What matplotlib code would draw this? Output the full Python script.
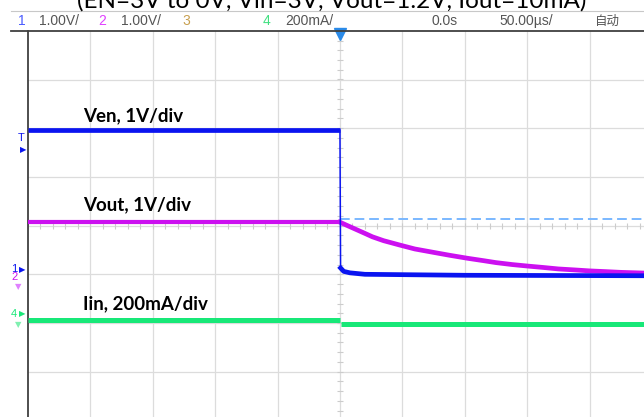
import numpy as np
import matplotlib
matplotlib.use("Agg")
import matplotlib.pyplot as plt
from matplotlib.lines import Line2D

'''
Data (read off the scope screen):
'''
# time in microseconds, 50 us/div, trigger at 0
t_before = [-250, 0]
ven_before = [2.96, 2.96]          # V, 1 V/div
vout_before = [1.07, 1.07]         # V, 1 V/div
iin_before = [-14, -14]            # mA, 200 mA/div

t_ven_after = [0.5, 3, 8, 20, 100, 250]
ven_after = [0.13, 0.06, 0.03, 0.0, -0.02, -0.03]

t_vout_after = [0, 6, 13, 20, 26, 35, 48, 60, 75, 88, 102, 115, 125,
                138, 150, 163, 175, 188, 200, 213, 225, 238, 250]
vout_after = [1.07, 1.00, 0.92, 0.84, 0.77, 0.69, 0.60, 0.52, 0.45, 0.39, 0.33, 0.28, 0.24,
              0.20, 0.17, 0.14, 0.11, 0.09, 0.07, 0.055, 0.04, 0.03, 0.02]

t_iin_after = [0.5, 250]
iin_after = [-32, -32]

ref_level = 1.13                   # dashed cursor, V on ch1/ch2 scale

ch_offset = {"1": -1.0, "2": -1.0, "4": -1.86}   # divisions
volts_div = 1.0
ma_div = 200.0

title = "(EN=3V to 0V, Vin=3V, Vout=1.2V, Iout=10mA)"
status = [("1", 18, "#4a5cff"), ("1.00V/", 39, "#555555"),
          ("2", 98, "#e040ff"), ("1.00V/", 121, "#555555"),
          ("3", 182, "#c8a050"), ("4", 263, "#40e080"),
          ("200mA/", 285, "#555555"), ("0.0s", 431, "#555555"),
          ("50.00µs/", 499, "#555555")]

'''
Setup:
'''
W, H = 644, 417
fig = plt.figure(figsize=(W / 100, H / 100), dpi=100)

def fx(x):
    return x / W

def fy(y):
    return 1 - y / H

left, right, top, bottom = 27.9, 652.0, 30.8, 420.4
ax = fig.add_axes([fx(left), fy(bottom), (right - left) / W, (bottom - top) / H])
ax.set_xlim(-250, 250)
ax.set_ylim(-4, 4)
ax.set_xticks([])
ax.set_yticks([])
for s in ["top", "right", "bottom"]:
    ax.spines[s].set_visible(False)
ax.spines["left"].set_color("#404040")
ax.spines["left"].set_linewidth(1.3)

'''
Grid:
'''
grid_c = "#dcdcdc"
for gx in np.arange(-200, 251, 50):
    ax.axvline(gx, color=grid_c, lw=0.9, zorder=1)
for gy in np.arange(-3, 4, 1):
    ax.axhline(gy, color=grid_c, lw=0.9, zorder=1)
# minor ticks on the centre lines
mx = np.arange(-250, 251, 10)
my = np.arange(-4, 4.01, 0.2)
ax.plot(mx, np.zeros_like(mx), ls="none", marker="|", ms=4, mew=0.8, color="#cccccc", zorder=1)
ax.plot(np.zeros_like(my), my, ls="none", marker="_", ms=4, mew=0.8, color="#cccccc", zorder=1)

'''
Traces:
'''
blue = "#0a14f0"
magenta = "#cc10f0"
green = "#18e878"

ven_b = np.array(ven_before) / volts_div + ch_offset["1"]
ven_a = np.array(ven_after) / volts_div + ch_offset["1"]
vout_b = np.array(vout_before) / volts_div + ch_offset["2"]
vout_a = np.array(vout_after) / volts_div + ch_offset["2"]
iin_b = np.array(iin_before) / ma_div + ch_offset["4"]
iin_a = np.array(iin_after) / ma_div + ch_offset["4"]

ax.plot([t_before[-1], t_ven_after[0]], [ven_b[-1], ven_a[0]], color=blue, lw=1.1, zorder=5)
ax.plot(t_before, iin_b, color=green, lw=3.6, zorder=3, solid_capstyle="butt")
ax.plot(t_iin_after, iin_a, color=green, lw=3.6, zorder=3, solid_capstyle="butt")
ax.plot(t_before, vout_b, color=magenta, lw=3.0, zorder=4, solid_capstyle="butt")
ax.plot(t_vout_after, vout_a, color=magenta, lw=3.4, zorder=4)
ax.plot(t_before, ven_b, color=blue, lw=3.4, zorder=5, solid_capstyle="butt")
ax.plot(t_ven_after, ven_a, color=blue, lw=3.4, zorder=5)

ref_y = ref_level / volts_div + ch_offset["1"]
ax.plot([0, 250], [ref_y, ref_y], color="#7ab8ff", lw=1.4, ls=(0, (5, 2.5)), zorder=2)

# trigger position marker
ax.plot([0], [3.93], marker="v", ms=8, color="#2a8ae8", clip_on=False, zorder=6)

'''
Labels:
'''
lab = dict(fontsize=13.5, fontweight="bold", family=["Lato", "DejaVu Sans"], va="center", color="black")
fig.text(fx(83), fy(116), "Ven, 1V/div", **lab)
fig.text(fx(83), fy(205), "Vout, 1V/div", **lab)
fig.text(fx(83), fy(304), "Iin, 200mA/div", **lab)

fig.text(fx(332), fy(8), title, fontsize=17.5, family=["Lato", "DejaVu Sans"],
         ha="center", va="baseline")

'''
Status bar:
'''
fig.add_artist(Line2D([fx(11), 1], [fy(11), fy(11)], color="#c8c8c8", lw=0.8))
fig.add_artist(Line2D([fx(11), 1], [fy(31), fy(31)], color="#404040", lw=1.3))
sfont = ["Liberation Sans Narrow", "Liberation Sans", "DejaVu Sans"]
for txt, x, c in status:
    fig.text(fx(x), fy(21), txt, fontsize=10, color=c, family=sfont, va="center")
fig.text(fx(595), fy(21), "自动", fontsize=9, color="#555555",
         family=["Noto Sans CJK SC", "DejaVu Sans"], va="center")

'''
Channel markers on the left edge:
'''
mk = dict(fontsize=8, va="center", ha="center", family=sfont)
fig.text(fx(21), fy(138), "T", color=blue, **mk)
fig.text(fx(23), fy(150), "▶", color=blue, fontsize=6, va="center", ha="center")
fig.text(fx(14), fy(269), "1", color=blue, **mk)
fig.text(fx(22), fy(270), "▶", color=blue, fontsize=6, va="center", ha="center")
fig.text(fx(15), fy(277), "2", color=magenta, **mk)
fig.text(fx(18), fy(287), "▼", color="#e080ff", fontsize=6, va="center", ha="center")
fig.text(fx(14), fy(314), "4", color=green, **mk)
fig.text(fx(22), fy(314), "▶", color=green, fontsize=6, va="center", ha="center")
fig.text(fx(18), fy(325), "▼", color="#80f0b0", fontsize=6, va="center", ha="center")

fig.savefig("out.png", dpi=100)
